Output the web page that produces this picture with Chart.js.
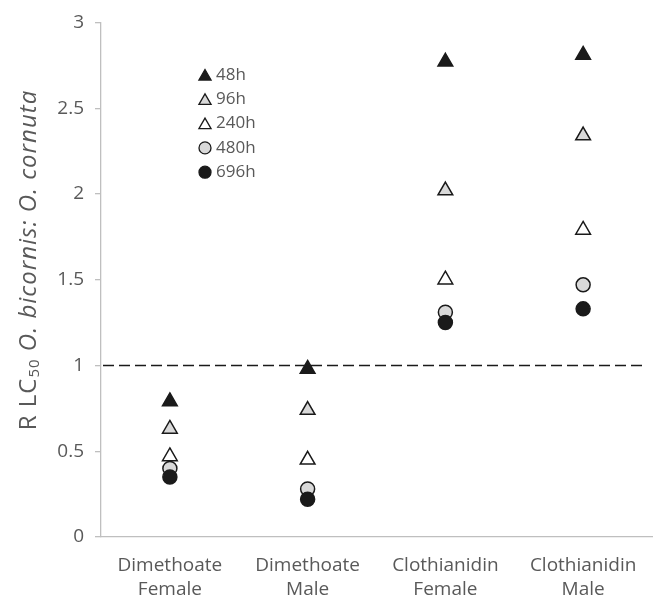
<!DOCTYPE html>
<html><head><meta charset="utf-8">
<script src="https://cdn.jsdelivr.net/npm/chart.js@4/dist/chart.umd.min.js"></script>
<style>html,body{margin:0;padding:0;background:#fff}#wrap{width:662px;height:600px}</style>
</head><body><div id="wrap"><canvas id="c" width="662" height="600"></canvas></div>
<script>
const categories = [['Dimethoate','Female'],['Dimethoate','Male'],['Clothianidin','Female'],['Clothianidin','Male']];
const seriesNames = ['48h','96h','240h','480h','696h'];
const h48  = [0.79, 0.98, 2.77, 2.81];
const h96  = [0.63, 0.74, 2.02, 2.34];
const h240 = [0.47, 0.45, 1.50, 1.79];
const h480 = [0.40, 0.28, 1.31, 1.47];
const h696 = [0.35, 0.22, 1.25, 1.33];
const yTickStep = 0.5;
const yMin = 0, yMax = 3;
const referenceLine = 1;

const FONT = "'Open Sans', sans-serif";
const GREY = '#595959';
const styles = [
  {shape:'triangle', fill:'#1a1a1a', r:8.5},
  {shape:'triangle', fill:'#d9d9d9', r:8.5},
  {shape:'triangle', fill:'#ffffff', r:8.5},
  {shape:'circle',   fill:'#d9d9d9', r:7},
  {shape:'circle',   fill:'#1a1a1a', r:7}
];
const seriesValues = [h48, h96, h240, h480, h696];

const datasets = seriesValues.map((vals, i) => ({
  label: seriesNames[i],
  data: vals,
  showLine: false,
  pointStyle: styles[i].shape,
  pointRadius: styles[i].r,
  pointHoverRadius: styles[i].r,
  pointBackgroundColor: styles[i].fill,
  pointBorderColor: '#1a1a1a',
  pointBorderWidth: 1.5,
  order: seriesValues.length - i
}));

const refLinePlugin = {
  id: 'refLine',
  beforeDatasetsDraw(chart) {
    const {ctx, chartArea, scales} = chart;
    const y = Math.round(scales.y.getPixelForValue(referenceLine)) + 0.5;
    ctx.save();
    ctx.strokeStyle = '#1a1a1a';
    ctx.lineWidth = 1.5;
    ctx.setLineDash([11, 5]);
    ctx.beginPath();
    ctx.moveTo(chartArea.left + 2, y);
    ctx.lineTo(chartArea.right - 6, y);
    ctx.stroke();
    ctx.restore();
  }
};

const legendPlugin = {
  id: 'insideLegend',
  afterDraw(chart) {
    const ctx = chart.ctx;
    const x0 = 205, y0 = 75, dy = 24.3;
    ctx.save();
    seriesNames.forEach((name, i) => {
      const y = y0 + i * dy;
      const st = styles[i];
      ctx.fillStyle = st.fill;
      ctx.strokeStyle = '#1a1a1a';
      ctx.lineWidth = 1.3;
      Chart.helpers.drawPoint(ctx, {pointStyle: st.shape, radius: st.shape === 'triangle' ? 7 : 6, borderWidth: 1.3, rotation: 0}, x0, y + (st.shape === 'triangle' ? 1.5 : 0));
      ctx.fillStyle = GREY;
      ctx.font = `17px ${FONT}`;
      ctx.textAlign = 'left';
      ctx.textBaseline = 'middle';
      ctx.fillText(name, x0 + 11, y);
    });
    ctx.restore();
  }
};

const yTitlePlugin = {
  id: 'yTitle',
  afterDraw(chart) {
    const ctx = chart.ctx;
    const parts = [
      {t: 'R LC', f: `24px ${FONT}`, dy: 0},
      {t: '50', f: `15px ${FONT}`, dy: 6},
      {t: ' O. bicornis: O. cornuta', f: `italic 24px ${FONT}`, dy: 0}
    ];
    ctx.save();
    ctx.translate(29, 260);
    ctx.rotate(-Math.PI / 2);
    try { ctx.letterSpacing = '1px'; } catch (e) {}
    let total = 0;
    parts.forEach(p => { ctx.font = p.f; p.w = ctx.measureText(p.t).width; total += p.w; });
    let x = -total / 2;
    ctx.fillStyle = GREY;
    ctx.textBaseline = 'middle';
    ctx.textAlign = 'left';
    parts.forEach(p => { ctx.font = p.f; ctx.fillText(p.t, x, p.dy); x += p.w; });
    ctx.restore();
  }
};

new Chart(document.getElementById('c'), {
  type: 'line',
  data: { labels: categories, datasets },
  options: {
    responsive: false,
    devicePixelRatio: 1,
    animation: false,
    layout: { padding: { top: 20, right: 3, bottom: 0, left: 0 } },
    plugins: { legend: { display: false }, tooltip: { enabled: false } },
    scales: {
      x: {
        type: 'category',
        offset: true,
        grid: { display: false, drawTicks: false },
        border: { display: true, color: '#bfbfbf', width: 1.3 },
        ticks: { color: GREY, font: { family: FONT, size: 19, lineHeight: 1.3 }, padding: 16, maxRotation: 0, autoSkip: false },
        afterFit(scale) { scale.height = 63; }
      },
      y: {
        min: yMin, max: yMax,
        grid: { display: true, drawOnChartArea: false, drawTicks: true, tickLength: 6, color: '#bfbfbf', lineWidth: 1.3 },
        border: { display: true, color: '#bfbfbf', width: 1.3 },
        ticks: { stepSize: yTickStep, color: GREY, font: { family: FONT, size: 19 }, padding: 11, callback: v => String(v) },
        afterFit(scale) { scale.width = 101; }
      }
    }
  },
  plugins: [refLinePlugin, legendPlugin, yTitlePlugin]
});
</script>
</body></html>
